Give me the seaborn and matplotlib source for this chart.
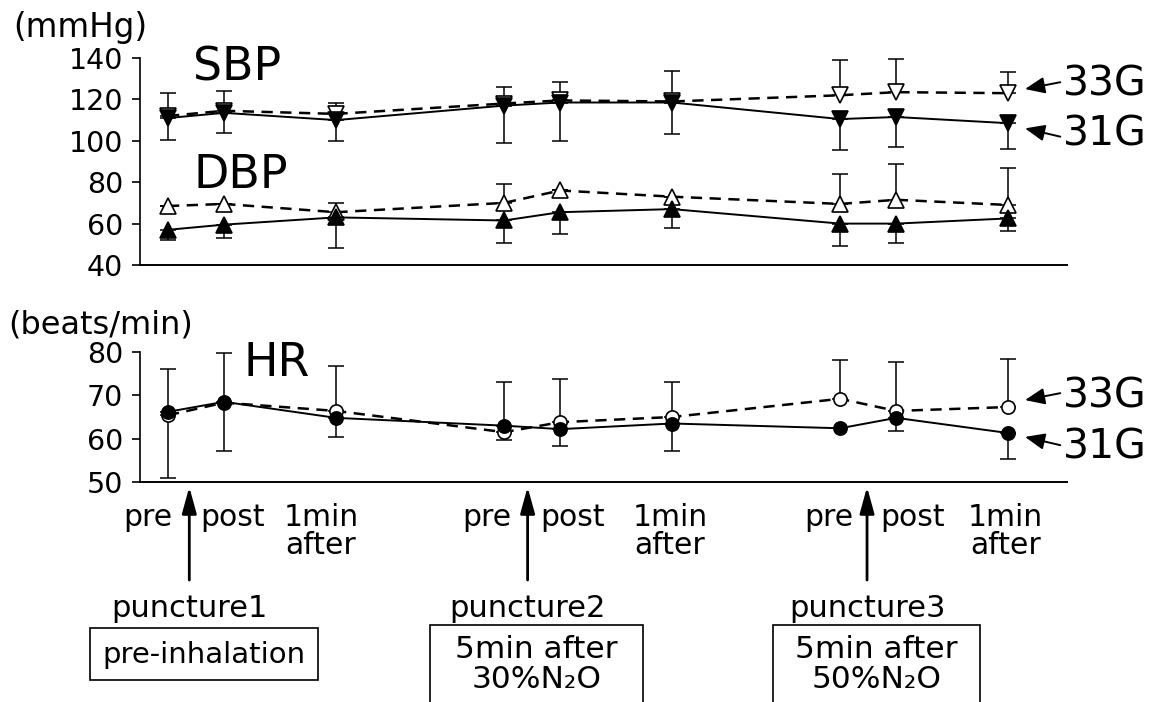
import numpy as np
import seaborn as sns
import matplotlib.pyplot as plt
from matplotlib.patches import Rectangle

sns.set_style("ticks")
plt.rcParams["font.family"] = ["DejaVu Sans"]
plt.rcParams["text.color"] = "black"
plt.rcParams["xtick.color"] = "black"
plt.rcParams["ytick.color"] = "black"
plt.rcParams["axes.edgecolor"] = "black"

# time points: pre / post / 1min after for each of the three punctures
x_pos = [0, 1, 3, 6, 7, 9, 12, 13, 15]
tick_labels = ["pre", "post", "1min\nafter"] * 3
label_x = [-0.36, 1.16, 2.73, 5.7, 7.23, 8.96, 11.8, 13.3, 14.95]
punct_x = [0.38, 6.42, 12.48]
punct_labels = ["puncture1", "puncture2", "puncture3"]

# blood pressure (mmHg)
sbp31 = [111, 113.5, 110, 117, 118.5, 118.5, 110.5, 111.5, 108.5]
sbp31_lo = [100.5, 104, 100, 99, 100, 103.5, 95.5, 97, 96]
sbp33 = [112, 114.5, 113, 118, 119.5, 119, 122, 123.5, 123]
sbp33_hi = [123, 124, 118.5, 126, 128.5, 133.5, 139, 139.5, 133]

dbp31 = [57, 59.5, 63, 61.5, 65.5, 67, 60, 60, 62.5]
dbp31_lo = [52, 53, 48, 50.5, 55, 58, 49, 50.5, 56.5]
dbp33 = [68.5, 69.5, 65.5, 70, 76, 73, 69.5, 71.5, 69]
dbp33_hi = [68.5, 69.5, 70, 79, 76, 73, 84, 89, 87]

# heart rate (beats/min)
hr31 = [66.2, 68.5, 64.8, 63, 62.2, 63.5, 62.4, 64.8, 61.3]
hr31_lo = [51, 57.1, 60.3, 59.7, 58.3, 57.1, 62.4, 61.8, 55.3]
hr33 = [65.4, 68.3, 66.4, 61.5, 63.8, 65, 69.2, 66.4, 67.3]
hr33_hi = [76.1, 79.8, 76.8, 73.1, 73.8, 73.1, 78.2, 77.7, 78.4]

W, H = 1152, 702
fig = plt.figure(figsize=(W / 100, H / 100), dpi=100)
ax1 = fig.add_axes([140 / W, 1 - 265 / H, 927 / W, 207 / H])
ax2 = fig.add_axes([140 / W, 1 - 482 / H, 927 / W, 130 / H])


def draw(ax, y, lo, hi, marker, filled, dashed, ms):
    y = np.array(y, dtype=float)
    err = [y - np.array(lo), np.array(hi) - y]
    ax.errorbar(x_pos, y, yerr=err, fmt="none", ecolor="black",
                elinewidth=1.1, capsize=6, capthick=1.1, zorder=1)
    sns.lineplot(x=x_pos, y=y, ax=ax, sort=False, errorbar=None,
                 color="black", lw=1.8 if dashed else 1.4,
                 linestyle=(0, (4.5, 3)) if dashed else "-",
                 marker=marker, markersize=ms,
                 markerfacecolor="black" if filled else "white",
                 markeredgecolor="black", markeredgewidth=1.2, zorder=3)


draw(ax1, sbp33, sbp33, sbp33_hi, "v", False, True, 12)
draw(ax1, sbp31, sbp31_lo, sbp31, "v", True, False, 12)
draw(ax1, dbp33, dbp33, dbp33_hi, "^", False, True, 12)
draw(ax1, dbp31, dbp31_lo, dbp31, "^", True, False, 12)
draw(ax2, hr33, hr33, hr33_hi, "o", False, True, 9.5)
draw(ax2, hr31, hr31_lo, hr31, "o", True, False, 9.5)

for ax in (ax1, ax2):
    ax.set_xlim(-0.5, 16.05)
    sns.despine(ax=ax)
    ax.spines["left"].set_linewidth(1.2)
    ax.spines["bottom"].set_linewidth(1.4)
    ax.tick_params(axis="y", direction="out", length=6, width=1.2,
                   pad=6, labelsize=20.5)
    ax.set_xlabel("")
    ax.set_ylabel("")

ax1.set_ylim(40, 140)
ax1.set_yticks([40, 60, 80, 100, 120, 140])
ax1.set_xticks([])
ax2.set_ylim(50, 80)
ax2.set_yticks([50, 60, 70, 80])
ax2.set_xticks(label_x)
ax2.set_xticklabels(tick_labels, fontsize=21.5, linespacing=0.95)
ax2.tick_params(axis="x", length=0, pad=15)

# panel labels
ax1.text(0.45, 129.3, "SBP", fontsize=33, va="baseline")
ax1.text(0.45, 77.4, "DBP", fontsize=33, va="baseline")
ax2.text(1.34, 74.5, "HR", fontsize=33, va="baseline")
fig.text(13 / W, 1 - 37 / H, "(mmHg)", fontsize=23.5, va="baseline")
fig.text(8 / W, 1 - 333 / H, "(beats/min)", fontsize=23, va="baseline")

# group annotations on the right
arr = dict(arrowstyle="-|>,head_length=0.6,head_width=0.25",
           mutation_scale=20, lw=1.4, color="black", shrinkA=0, shrinkB=0)
for ax, txt, ytxt, tail, tip in [
        (ax1, "33G", 122, 128.3, 125), (ax1, "31G", 97.8, 102, 106),
        (ax2, "33G", 67.3, 70.5, 68.9), (ax2, "31G", 55.5, 58.5, 60.4)]:
    ax.text(15.98, ytxt, txt, fontsize=29.5, va="baseline", clip_on=False)
    ax.annotate("", xy=(15.3, tip), xytext=(15.93, tail), arrowprops=arr,
                annotation_clip=False)

# puncture arrows
parr = dict(arrowstyle="-|>,head_length=0.8,head_width=0.22",
            mutation_scale=20, lw=2, color="black", shrinkA=0, shrinkB=0)
for px, lab in zip(punct_x, punct_labels):
    ax2.annotate("", xy=(px, -0.038), xytext=(px, -0.754),
                 xycoords=("data", "axes fraction"),
                 textcoords=("data", "axes fraction"),
                 arrowprops=parr, annotation_clip=False)
    ax2.annotate(lab, xy=(px, 1 - 617 / H), xycoords=("data", "figure fraction"),
                 ha="center", va="baseline", fontsize=22, annotation_clip=False)

# condition boxes
boxes = [(90, 628, 318, 680), (430, 625, 643, 712), (773, 625, 980, 712)]
box_text = ["pre-inhalation", "5min after\n30%N\u2082O", "5min after\n50%N\u2082O"]
for (x0, y0, x1, y1), t in zip(boxes, box_text):
    fig.add_artist(Rectangle((x0 / W, 1 - y1 / H), (x1 - x0) / W, (y1 - y0) / H,
                             transform=fig.transFigure, fill=False,
                             ec="black", lw=1.2, clip_on=False))
    if "\n" in t:
        fig.text((x0 + x1) / 2 / W, 1 - 635 / H, t, ha="center", va="top",
                 fontsize=22.5, linespacing=1.05)
    else:
        fig.text((x0 + x1) / 2 / W, 1 - 655 / H, t, ha="center", va="center",
                 fontsize=21)

fig.savefig("out.png", dpi=100)
